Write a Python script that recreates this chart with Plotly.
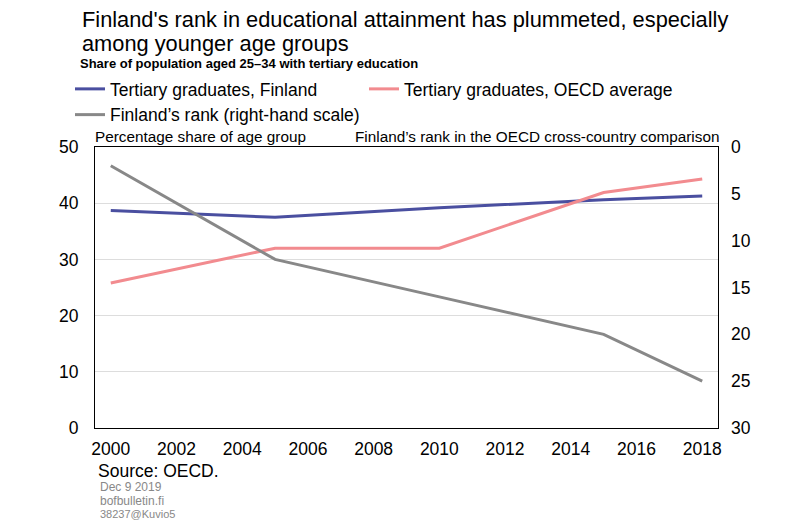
import plotly.graph_objects as go

# Data
years = [2000, 2005, 2010, 2015, 2018]
finland_share = [38.7, 37.5, 39.2, 40.6, 41.3]
oecd_share = [25.8, 32.0, 32.0, 41.9, 44.3]
finland_rank = [2, 12, 16, 20, 25]

font_family = 'Liberation Sans, Arial, sans-serif'

# the page body adds an 8px offset, so the figure is drawn 8px smaller and positions shifted
OFF = 8
W, H = 800 - OFF, 522 - OFF
L, T = 95 - OFF, 147 - OFF
R = W - (718 - OFF)
B = H - (428 - OFF)
PW, PH = W - L - R, H - T - B


def px_x(x):
    # reference pixel x -> plot-area fraction
    return (x - OFF - L) / PW


def px_y(y):
    # reference pixel y (from top) -> plot-area fraction
    return 1 - (y - OFF - T) / PH


fig = go.Figure()

fig.add_scatter(x=years, y=finland_share, name='Tertiary graduates, Finland', mode='lines',
                line=dict(color='#4a4fa0', width=3), legend='legend')
fig.add_scatter(x=years, y=oecd_share, name='Tertiary graduates, OECD average', mode='lines',
                line=dict(color='#f28b8f', width=3), legend='legend2')
fig.add_scatter(x=years, y=finland_rank, name='Finland\u2019s rank (right-hand scale)', mode='lines',
                line=dict(color='#888888', width=3), yaxis='y2', legend='legend')

legend_style = dict(orientation='v', xanchor='left', yanchor='top', font=dict(size=17.5),
                    tracegroupgap=0, itemwidth=30, bgcolor='rgba(0,0,0,0)')

fig.update_layout(
    width=W, height=H,
    margin=dict(l=L, r=R, t=T, b=B, autoexpand=False),
    plot_bgcolor='white', paper_bgcolor='white',
    font=dict(family=font_family, color='black', size=17.5),
    showlegend=True,
    legend=dict(x=px_x(70), y=px_y(71), **legend_style),
    legend2=dict(x=px_x(364), y=px_y(71), **legend_style),
    xaxis=dict(range=[1999.52, 2018.48], tickmode='linear', tick0=2000, dtick=2,
               showgrid=False, showline=True, linecolor='black', linewidth=1, mirror=True,
               ticks='', ticklabelstandoff=5, tickfont=dict(size=17.5), zeroline=False),
    yaxis=dict(range=[0, 50], dtick=10, showgrid=True, gridcolor='#dddddd',
               showline=True, linecolor='black', linewidth=1, mirror=True,
               ticks='', ticklabelstandoff=12, tickfont=dict(size=17.5), zeroline=False),
    yaxis2=dict(range=[30, 0], dtick=5, overlaying='y', side='right', showgrid=False,
                ticks='', ticklabelstandoff=12, tickfont=dict(size=17.5), zeroline=False,
                showline=False),
)

# Title, subtitle, axis captions, source and footer (reference pixel positions)
texts = [
    ("Finland's rank in educational attainment has plummeted, especially", 80, 19, 21.8, 'black'),
    ('among younger age groups', 80, 44, 21.8, 'black'),
    ('<b>Share of population aged 25\u201334 with tertiary education</b>', 78, 64, 13, 'black'),
    ('Percentage share of age group', 93, 137, 15.3, 'black'),
    ('Source: OECD.', 96, 471, 17.5, 'black'),
    ('Dec 9 2019', 98, 487, 12, '#888888'),
    ('bofbulletin.fi', 98, 501, 12, '#888888'),
    ('38237@Kuvio5', 98, 514, 11, '#888888'),
]
for text, x, y, size, color in texts:
    fig.add_annotation(text=text, x=px_x(x), y=px_y(y), xref='paper', yref='paper',
                       xanchor='left', yanchor='middle', showarrow=False,
                       font=dict(size=size, color=color))
fig.add_annotation(text='Finland\u2019s rank in the OECD cross-country comparison', x=px_x(721),
                   y=px_y(136), xref='paper', yref='paper', xanchor='right', yanchor='middle',
                   showarrow=False, font=dict(size=15.3))

fig.write_html('out.html')
